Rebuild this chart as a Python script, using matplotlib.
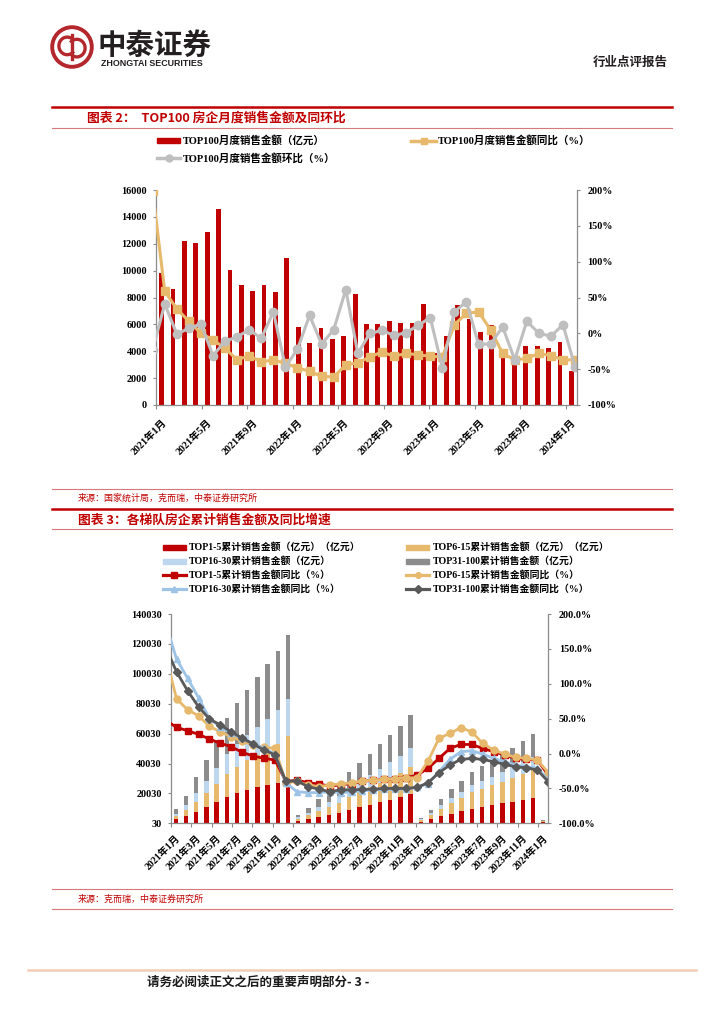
import numpy as np
import matplotlib
matplotlib.use("Agg")
import matplotlib.pyplot as plt
from matplotlib.patches import Circle, Rectangle, Arc
from matplotlib.lines import Line2D
from matplotlib.ticker import FuncFormatter

plt.rcParams['font.family'] = ['Liberation Serif', 'Noto Sans CJK SC']
plt.rcParams['font.weight'] = 'bold'
plt.rcParams['axes.unicode_minus'] = False

W, H = 724, 1024
nan = np.nan

# ---------------- chart 1 data (TOP100 monthly) ----------------
months = [f'{y}年{m}月' for y in (2021, 2022, 2023) for m in range(1, 13)] + ['2024年1月']

top100_month = [9800, 8630, 12180, 12060, 12900, 14570, 10020, 8960, 8490, 8960, 8410, 10970,
                5830, 4590, 5730, 4890, 5160, 8290, 6030, 6000, 6250, 6100, 6100, 7500,
                3900, 5140, 7440, 6380, 5460, 5960, 3720, 3570, 4370, 4370, 4220, 4710,
                2530]
# 同比 / 环比 (%), line points as drawn
top100_yoy = [nan, 198, 59, 34, 17, 0, -9, -21, -37, -31, -40, -37,
              -42, -48, -53, -60, -61, -44, -41, -33, -26, -32, -28, -30,
              -32, -33, 12, 28, 30, 5, -28, -37, -35, -28, -31, -37,
              -37]
top100_mom = [nan, -23, 41, -1, 7, 13, -31, -11, -5, 5, -7, 30,
              -47, -22, 25, -15, 5, 61, -28, 0, 4, -3, 1, 11,
              22, -48, 30, 44, -15, -15, 9, -37, 17, 0, -4, 12,
              -47]

# ---------------- chart 2 data (cumulative by tier, 亿元) ----------------
top1_5 = [2800, 4900, 7800, 10900, 14200, 17800, 20200, 22400, 24200, 25600, 27000, 28800,
          1600, 2800, 4300, 5600, 7000, 9200, 10800, 12400, 14100, 15700, 17300, 19400,
          1100, 2600, 4700, 6500, 8100, 9800, 11000, 12100, 13300, 14500, 15700, 17100,
          750]
top6_15 = [2100, 3900, 6600, 9400, 12200, 15500, 17500, 19700, 21800, 23800, 26000, 29500,
           1400, 2600, 4000, 5200, 6500, 8600, 10100, 11600, 13200, 14700, 16200, 18100,
           1200, 2900, 5200, 7200, 8900, 10900, 12200, 13300, 14600, 15900, 17300, 19000,
           800]
top16_30 = [1600, 3600, 6000, 8300, 10700, 13400, 15300, 17000, 18600, 20600, 22700, 24600,
            1000, 1800, 2800, 3700, 4600, 6000, 7100, 8100, 9200, 10300, 11400, 12700,
            550, 1300, 2300, 3200, 4000, 4800, 5400, 5900, 6500, 7100, 7700, 8500,
            350]
top31_100 = [3350, 6100, 10300, 14100, 18500, 23500, 27200, 30100, 33100, 36600, 39300, 43100,
             1830, 3200, 5050, 6500, 8100, 10700, 12500, 14400, 16300, 18200, 20100, 22300,
             1050, 2240, 4280, 5960, 7320, 9000, 10000, 11000, 12100, 13100, 14200, 15200,
             650]

yoy1_5 = [nan, 47.6, 37.5, 32.7, 27.5, 20.8, 14.6, 9.8, 1.7, -3.6, -6.9, -9.3,
          -40.4, -38, -41.8, -43.7, -46.6, -45, -43, -40, -38, -37, -36, -34.6,
          -31, -21, -7, 7.4, 13, 13, 7.4, 2.6, -2, -7, -8.4, -9.3,
          -31]
yoy6_15 = [nan, 140, 78, 63, 54, 39, 31, 24, 18, 12, 9, 7.4,
           -42, -40, -45, -47.5, -45, -43.7, -42, -39.4, -38, -37, -36, -35,
           -34.6, -10.7, 21.7, 29, 37, 31, 14.6, 5, -0.7, -5.5, -7, -9.3,
           -27.5]
yoy16_30 = [nan, 186, 135, 108, 80, 50, 38, 29, 22, 14.6, 7.4, -0.7,
            -42, -54.7, -56, -56, -54.7, -56, -55, -53.5, -52.4, -51.4, -51.4, -50.9,
            -48.5, -43, -26, -8.4, 2.6, 4, -0.7, -7, -11.7, -16.5, -19, -21,
            -38]
yoy31_100 = [nan, 152, 117, 90, 67, 49.5, 41, 31, 22, 13.6, 5, -2,
             -40, -39, -47.5, -51, -54.7, -52, -52, -51.4, -51, -50, -50, -50,
             -48.5, -41.8, -27.5, -16.5, -8.4, -7, -8.4, -11.7, -15.5, -19, -20.3, -23.7,
             -40.4]

RED = '#C00000'
TAN = '#E6B96C'
LBLUE = '#BDD7EE'
BLUE_LN = '#9DC3E6'
GRAY = '#8C8C8C'
DGRAY = '#595959'
LGRAY = '#BFBFBF'
AX = '#8C8C8C'
CJK = 'Noto Sans CJK SC'


def X(px):
    return px / W


def Y(py):
    return 1 - py / H


fig = plt.figure(figsize=(7.24, 10.24), dpi=100)


def hline(y, x0, x1, color, lw):
    fig.add_artist(Line2D([X(x0), X(x1)], [Y(y), Y(y)], color=color, lw=lw))


# ---------------- header ----------------
lax = fig.add_axes([X(50), Y(69), 44 / W, 44 / H])
lax.set_xlim(-1, 1)
lax.set_ylim(-1, 1)
lax.axis('off')
lax.add_patch(Circle((0, 0), 0.9, fill=False, ec='#B3272D', lw=2.8))
lax.add_patch(Arc((-0.22, 0.05), 0.75, 0.8, theta1=40, theta2=320, ec='#B3272D', lw=2.4))
lax.add_patch(Arc((0.22, -0.05), 0.75, 0.8, theta1=220, theta2=140, ec='#B3272D', lw=2.4))
lax.plot([0, 0], [-0.55, 0.55], color='#B3272D', lw=2.4)

fig.text(X(98), Y(46), '中泰证券', fontsize=20.5, family=CJK, weight='bold',
         color='#231F20', va='center', ha='left')
fig.text(X(101), Y(63.5), 'ZHONGTAI SECURITIES', fontsize=6.4, family='Liberation Sans',
         weight='bold', color='#231F20', va='center', ha='left')
fig.text(X(668), Y(62), '行业点评报告', fontsize=9, family=CJK, weight='bold',
         color='#231F20', va='center', ha='right')

# ---------------- chart 1 frame ----------------
hline(107, 52, 672, RED, 1.8)
fig.text(X(87), Y(118), '图表 2：  TOP100 房企月度销售金额及同环比', fontsize=9.2,
         family=CJK, weight='bold', color=RED, va='center')
hline(127.5, 52, 672, '#D9787A', 0.8)

# legend chart 1
fig.add_artist(Rectangle((X(157), Y(143.2)), 23 / W, 5 / H, color=RED,
                         transform=fig.transFigure))
fig.text(X(183), Y(140.7), 'TOP100月度销售金额（亿元）', fontsize=7.6, va='center')
fig.add_artist(Line2D([X(411), X(436)], [Y(140.7)] * 2, color=TAN, lw=2.5))
fig.add_artist(Line2D([X(423.5)], [Y(140.7)], color=TAN, marker='s', ms=5))
fig.text(X(438), Y(140.7), 'TOP100月度销售金额同比（%）', fontsize=7.6, va='center')
fig.add_artist(Line2D([X(157), X(180)], [Y(158.3)] * 2, color=LGRAY, lw=2.5))
fig.add_artist(Line2D([X(168.5)], [Y(158.3)], color=LGRAY, marker='o', ms=5))
fig.text(X(183), Y(158.3), 'TOP100月度销售金额环比（%）', fontsize=7.6, va='center')

rect1 = [X(156), Y(405), (577 - 156) / W, (405 - 190) / H]
ax1 = fig.add_axes(rect1)
xb = np.arange(len(months))
ax1.bar(xb, top100_month, width=0.42, color=RED)
ax1.set_xlim(-0.5, 36.5)
ax1.set_ylim(0, 16000)
ax1.set_yticks(np.arange(0, 16001, 2000))
ax1.yaxis.set_major_formatter(FuncFormatter(lambda v, _: f'{v:.0f}'))
for s in ('top', 'right'):
    ax1.spines[s].set_visible(False)
for s in ('left', 'bottom'):
    ax1.spines[s].set_color(AX)
    ax1.spines[s].set_linewidth(0.9)
ax1.set_xticks(np.arange(-0.5, 37, 4))
ax1.set_xticklabels([])
ax1.set_xticks(np.arange(0, 37, 4), minor=True)
ax1.set_xticklabels(months[::4], minor=True, rotation=45, ha='right',
                    rotation_mode='anchor')
ax1.tick_params(axis='x', which='major', length=3, color=AX)
ax1.tick_params(axis='x', which='minor', length=0, pad=9, labelsize=7.3)
ax1.tick_params(axis='y', length=2.5, color=AX, pad=4, labelsize=7.3)

axl1 = fig.add_axes(rect1, facecolor='none')
xl = np.arange(len(months))
axl1.plot(xl, top100_yoy, color=TAN, lw=2.2, marker='s', ms=5.5)
axl1.plot(xl, top100_mom, color=LGRAY, lw=2.2, marker='o', ms=6)
axl1.set_xlim(1.276, 36.16)
axl1.set_ylim(-100, 200)
axl1.set_yticks(np.arange(-100, 201, 50))
axl1.yaxis.set_major_formatter(FuncFormatter(lambda v, _: f'{v:.0f}%'))
axl1.yaxis.tick_right()
axl1.xaxis.set_visible(False)
for s in ('top', 'bottom', 'left'):
    axl1.spines[s].set_visible(False)
axl1.spines['right'].set_color(AX)
axl1.spines['right'].set_linewidth(0.9)
axl1.tick_params(axis='y', length=2.5, color=AX, pad=5, labelsize=7.3)

hline(489, 52, 672, '#D9787A', 0.8)
fig.text(X(78), Y(498), '来源：国家统计局，克而瑞，中泰证券研究所', fontsize=6.5,
         family=CJK, weight='normal', color=RED, va='center')

# ---------------- chart 2 frame ----------------
hline(509, 52, 672, RED, 1.8)
fig.text(X(78), Y(520), '图表 3：各梯队房企累计销售金额及同比增速', fontsize=9.2,
         family=CJK, weight='bold', color=RED, va='center')
hline(528.5, 52, 672, '#D9787A', 0.8)

leg_rows = [547.3, 561.3, 575.3, 589.3]
leg_items = [
    ('bar', RED, None, 'TOP1-5累计销售金额（亿元）（亿元）'),
    ('bar', TAN, None, 'TOP6-15累计销售金额（亿元）（亿元）'),
    ('bar', LBLUE, None, 'TOP16-30累计销售金额（亿元）'),
    ('bar', GRAY, None, 'TOP31-100累计销售金额（亿元）'),
    ('line', RED, 's', 'TOP1-5累计销售金额同比（%）'),
    ('line', TAN, 'o', 'TOP6-15累计销售金额同比（%）'),
    ('line', BLUE_LN, '^', 'TOP16-30累计销售金额同比（%）'),
    ('line', DGRAY, 'D', 'TOP31-100累计销售金额同比（%）'),
]
for k, (kind, col, mk, label) in enumerate(leg_items):
    y = leg_rows[k // 2]
    x0 = 162.6 if k % 2 == 0 else 406.4
    if kind == 'bar':
        fig.add_artist(Rectangle((X(x0), Y(y + 2.5)), 23 / W, 5 / H, color=col,
                                 transform=fig.transFigure))
    else:
        fig.add_artist(Line2D([X(x0), X(x0 + 23)], [Y(y)] * 2, color=col, lw=2.3))
        fig.add_artist(Line2D([X(x0 + 11.5)], [Y(y)], color=col, marker=mk, ms=4))
    fig.text(X(x0 + 26), Y(y), label, fontsize=7.1, va='center')

rect2 = [X(170.7), Y(823.3), 377.6 / W, 209.3 / H]
ax2 = fig.add_axes(rect2)
bottom = np.zeros(len(months))
for vals, col in [(top1_5, RED), (top6_15, TAN), (top16_30, LBLUE), (top31_100, GRAY)]:
    ax2.bar(xb, vals, width=0.43, bottom=bottom, color=col)
    bottom = bottom + np.array(vals)
ax2.set_xlim(-0.5, 36.5)
ax2.set_ylim(30, 140030)
ax2.set_yticks(np.arange(30, 140031, 20000))
ax2.yaxis.set_major_formatter(FuncFormatter(lambda v, _: f'{v:.0f}'))
for s in ('top', 'right'):
    ax2.spines[s].set_visible(False)
for s in ('left', 'bottom'):
    ax2.spines[s].set_color(AX)
    ax2.spines[s].set_linewidth(0.9)
ax2.set_xticks(np.arange(-0.5, 37, 2))
ax2.set_xticklabels([])
ax2.set_xticks(np.arange(0, 37, 2), minor=True)
ax2.set_xticklabels(months[::2], minor=True, rotation=45, ha='right',
                    rotation_mode='anchor')
ax2.tick_params(axis='x', which='major', length=3, color=AX)
ax2.tick_params(axis='x', which='minor', length=0, pad=7, labelsize=7.2)
ax2.tick_params(axis='y', length=2.5, color=AX, pad=4, labelsize=7.3)

axl2 = fig.add_axes(rect2, facecolor='none')
axl2.plot(xl, yoy1_5, color=RED, lw=2, marker='s', ms=5)
axl2.plot(xl, yoy6_15, color=TAN, lw=2, marker='o', ms=5)
axl2.plot(xl, yoy16_30, color=BLUE_LN, lw=2, marker='^', ms=5)
axl2.plot(xl, yoy31_100, color=DGRAY, lw=2, marker='D', ms=3.8)
axl2.set_xlim(1.455, 36)
axl2.set_ylim(-100, 200)
axl2.set_yticks(np.arange(-100, 201, 50))
axl2.yaxis.set_major_formatter(FuncFormatter(lambda v, _: f'{v:.1f}%'))
axl2.yaxis.tick_right()
axl2.xaxis.set_visible(False)
for s in ('top', 'bottom', 'left'):
    axl2.spines[s].set_visible(False)
axl2.spines['right'].set_color(AX)
axl2.spines['right'].set_linewidth(0.9)
axl2.tick_params(axis='y', length=2.5, color=AX, pad=5, labelsize=7.3)

hline(889, 52, 672, '#D9787A', 0.8)
fig.text(X(78), Y(899), '来源：克而瑞，中泰证券研究所', fontsize=6.5, family=CJK,
         weight='normal', color=RED, va='center')
hline(908.5, 52, 672, '#D9787A', 0.8)

# ---------------- footer ----------------
hline(970, 28, 696, '#F2CDB5', 1.8)
fig.text(X(147), Y(982), '请务必阅读正文之后的重要声明部分- 3 -', fontsize=9, family=CJK,
         weight='bold', color='#1A1A1A', va='center')

fig.savefig('out.png', dpi=100)
